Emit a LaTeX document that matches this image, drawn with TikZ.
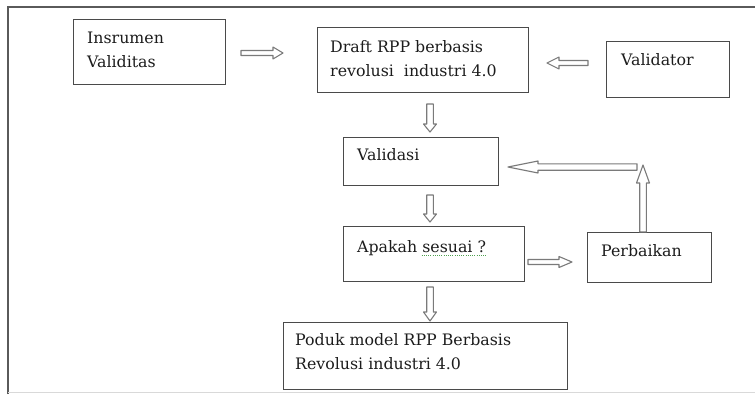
\documentclass[tikz,border=0pt]{standalone}
\usepackage{fontspec}
\setmainfont{DejaVu Serif}
\usetikzlibrary{calc}
\definecolor{boxgray}{HTML}{4A4A4A}
\definecolor{arrowgray}{HTML}{7A7A7A}
\definecolor{txtgray}{HTML}{1C1C1C}
\definecolor{framegray}{HTML}{5A5A5A}
\definecolor{spellgreen}{HTML}{4FA04F}
\newcommand{\hollowarr}[5]{%
  \draw[arrowline] ($(#1)!#3!90:(#2)$) -- ($(#2)!#5!(#1)!#3!-90:(#1)$)
    -- ($(#2)!#5!(#1)!#4!-90:(#1)$) -- (#2)
    -- ($(#2)!#5!(#1)!#4!90:(#1)$) -- ($(#2)!#5!(#1)!#3!90:(#1)$)
    -- ($(#1)!#3!-90:(#2)$) -- cycle;}
\begin{document}
\begin{tikzpicture}[x=1pt,y=-1pt,
  box/.style={draw=boxgray, line width=1.3pt, rectangle, inner sep=0pt, anchor=north west},
  lbl/.style={text=txtgray, font=\fontsize{15.8}{24}\selectfont, inner sep=0pt, align=left},
  arrowline/.style={draw=arrowgray, line width=1.1pt, line join=round}]
\useasboundingbox (0,0) rectangle (755,394);
% frame
\draw[framegray, line width=1.4pt] (8,394) -- (8,7) -- (755,7);
\draw[black!15, line width=1pt] (8,392) -- (755,392);
% boxes
\node[box, minimum width=152pt, minimum height=65pt] (ins) at (73,19) {};
\node[box, minimum width=211pt, minimum height=65pt] (draft) at (317,27) {};
\node[box, minimum width=123pt, minimum height=56pt] (valr) at (606,41) {};
\node[box, minimum width=155pt, minimum height=48pt] (vals) at (343,137) {};
\node[box, minimum width=181pt, minimum height=55pt] (apk) at (343,226) {};
\node[box, minimum width=124pt, minimum height=50pt] (perb) at (587,232) {};
\node[box, minimum width=284pt, minimum height=67pt] (prod) at (283,322) {};
% texts
\node[lbl, anchor=north west] (tIns) at (87,31.5) {Insrumen\\Validitas};
\node[lbl, anchor=north west] (tDraft) at (330,40) {Draft RPP berbasis\\revolusi\ \ industri 4.0};
\node[lbl, anchor=base west] (tValr) at (621,65) {Validator};
\node[lbl, anchor=base west] (tVals) at (357,160) {Validasi};
\node[lbl, anchor=base west] (tApk) at (357,252) {Apakah sesuai ?};
\node[lbl, anchor=base west] (tPerb) at (601,256) {Perbaikan};
\node[lbl, anchor=north west] (tProd) at (295,333) {Poduk model RPP Berbasis\\Revolusi industri 4.0};
\draw[spellgreen, line width=1pt, dash pattern=on 1pt off 1.2pt]
  ($(tApk.base west)!0.5!(tApk.base east)+(0,3.5)$) -- ($(tApk.base east)+(0,3.5)$);
% arrow end points
\coordinate (s1) at (241,53);  \coordinate (t1) at (283,53);
\coordinate (s2) at (588,63);  \coordinate (t2) at (547,63);
\coordinate (s3) at (430,104); \coordinate (t3) at (430,132);
\coordinate (s4) at (430,195); \coordinate (t4) at (430,222);
\coordinate (s5) at (430,287); \coordinate (t5) at (430,321);
\coordinate (s6) at (528,262); \coordinate (t6) at (572,262);
\coordinate (s7) at (643,232); \coordinate (t7) at (643,165);
\coordinate (s8) at (637,167); \coordinate (t8) at (508,167);
\hollowarr{s1}{t1}{2.5pt}{6pt}{10pt}
\hollowarr{s2}{t2}{2.5pt}{6pt}{12pt}
\hollowarr{s3}{t3}{3.3pt}{6.5pt}{8pt}
\hollowarr{s4}{t4}{3.3pt}{6.5pt}{8pt}
\hollowarr{s5}{t5}{3.3pt}{6.5pt}{9pt}
\hollowarr{s6}{t6}{2.5pt}{5.5pt}{13pt}
\hollowarr{s7}{t7}{3.3pt}{6.5pt}{18pt}
\hollowarr{s8}{t8}{3.2pt}{6pt}{30pt}
\end{tikzpicture}
\end{document}
